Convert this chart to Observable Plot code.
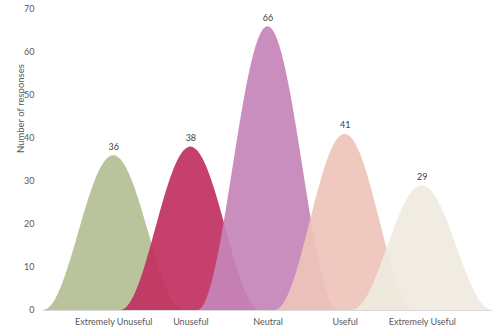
<!DOCTYPE html>
<html>
<head>
<meta charset="utf-8">
<script src="https://cdn.jsdelivr.net/npm/d3@7"></script>
<script src="https://cdn.jsdelivr.net/npm/@observablehq/plot@0.6"></script>
<style>
  html, body { margin: 0; padding: 0; background: #ffffff; }
  #chart { width: 500px; height: 333px; }
  svg { font-family: Lato, "Open Sans", sans-serif; }
</style>
</head>
<body>
<div id="chart"></div>
<script>
// Data
const categories = ["Extremely Unuseful", "Unuseful", "Neutral", "Useful", "Extremely Useful"];
const responses = [36, 38, 66, 41, 29];
const colors = ["#b3bf94", "#c0305f", "#c684b9", "#eec3ba", "#efeadf"];
const yTicks = [0, 10, 20, 30, 40, 50, 60, 70];
const yTitle = "Number of responses";

// Peak glyph: raised-cosine bell, half-width in category units
const halfWidth = 0.91;
const steps = 60;
const shape = [];
categories.forEach((c, i) => {
  for (let k = 0; k <= steps; k++) {
    const u = -1 + 2 * k / steps;
    shape.push({
      category: c,
      x: i + u * halfWidth,
      y: responses[i] * (1 + Math.cos(Math.PI * u)) / 2
    });
  }
});
const peaks = categories.map((c, i) => ({category: c, x: i, y: responses[i]}));

const chart = Plot.plot({
  width: 500,
  height: 333,
  marginLeft: 43,
  marginRight: 8,
  marginTop: 9,
  marginBottom: 23,
  style: {fontSize: "9px", color: "#595959", background: "#ffffff"},
  x: {
    type: "linear",
    domain: [-halfWidth, categories.length - 1 + halfWidth],
    axis: null
  },
  y: {domain: [0, 70], axis: null},
  color: {domain: categories, range: colors},
  marks: [
    Plot.ruleY([0], {stroke: "#d9d9d9", strokeWidth: 1}),
    Plot.axisY({ticks: yTicks, tickSize: 0, tickPadding: 9, label: null, fill: "#595959"}),
    Plot.text([yTitle], {frameAnchor: "left", text: (d) => d, rotate: -90, dx: -23, dy: -7,
      fill: "#595959", fontSize: 9.5}),
    Plot.axisX({ticks: categories.map((c, i) => i), tickSize: 0, tickPadding: 8,
      tickFormat: (d) => categories[d], label: null, fill: "#595959"}),
    ...categories.map((c) =>
      Plot.areaY(shape.filter((d) => d.category === c), {
        x: "x", y: "y", fill: "category", fillOpacity: 0.92, curve: "linear"
      })
    ),
    Plot.text(peaks, {x: "x", y: "y", text: (d) => String(d.y), dy: -9, fill: "#404040", fontSize: 9})
  ]
});
document.getElementById("chart").appendChild(chart);
</script>
</body>
</html>
